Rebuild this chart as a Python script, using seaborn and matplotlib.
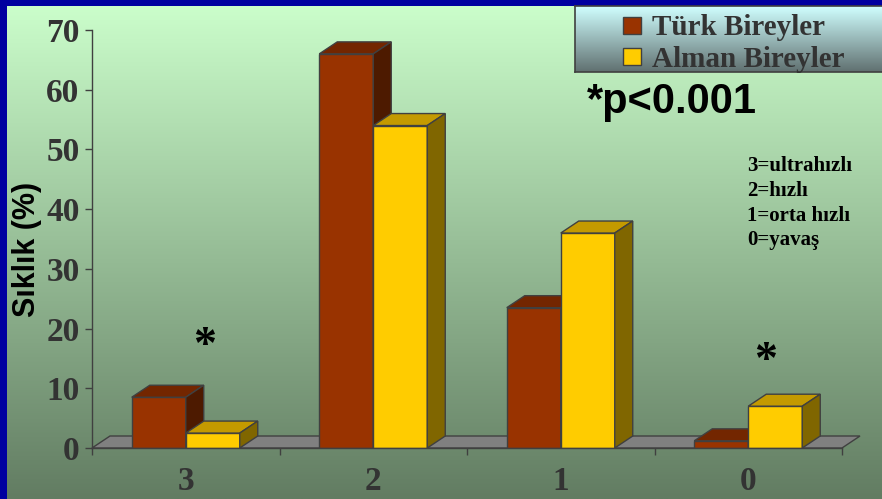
import numpy as np
import pandas as pd
import matplotlib
matplotlib.use("Agg")
import matplotlib.pyplot as plt
import seaborn as sns
from matplotlib.patches import Polygon, Rectangle, Patch
from matplotlib.colors import to_rgba

# ---- data ----
categories = ["3", "2", "1", "0"]
turk_values = [8.5, 66.0, 23.5, 1.2]
alman_values = [2.5, 54.0, 36.0, 7.0]
series_names = ["Türk Bireyler", "Alman Bireyler"]
y_ticks = [0, 10, 20, 30, 40, 50, 60, 70]
ylabel = "Sıklık (%)"
note_text = "3=ultrahızlı\n2=hızlı\n1=orta hızlı\n0=yavaş"
pvalue_text = "*p<0.001"
star_categories = ["3", "0"]

df = pd.DataFrame({
    "cat": categories * 2,
    "val": turk_values + alman_values,
    "grp": [series_names[0]] * 4 + [series_names[1]] * 4,
})

front = {series_names[0]: "#993300", series_names[1]: "#FFCC00"}
topc = {series_names[0]: "#732600", series_names[1]: "#C49A00"}
sidec = {series_names[0]: "#4D1A00", series_names[1]: "#806600"}
edge = "#404040"

W, H = 882, 499
fig = plt.figure(figsize=(W / 100, H / 100), dpi=100)

# background gradient
bg = fig.add_axes([0, 0, 1, 1], zorder=-10)
t = np.linspace(0, 1, 256)[:, None]
c_top = np.array([204, 255, 204]) / 255
c_bot = np.array([98, 124, 98]) / 255
grad = (c_top[None, None, :] * (1 - t[..., None]) + c_bot[None, None, :] * t[..., None])
bg.imshow(np.repeat(grad, 2, axis=1), aspect="auto", extent=[0, 1, 0, 1], origin="upper")
bg.set_xlim(0, 1); bg.set_ylim(0, 1); bg.axis("off")
# blue frame (top and left)
bg.add_patch(Rectangle((0, 1 - 6 / H), 1, 6 / H, color="#0000A0", lw=0))
bg.add_patch(Rectangle((0, 0), 7 / W, 1, color="#0000A0", lw=0))

# main axes
ax = fig.add_axes([92 / W, 51 / H, 750 / W, 418 / H])
ax.patch.set_alpha(0)
sns.barplot(data=df, x="cat", y="val", hue="grp", order=categories,
            hue_order=series_names, palette=[front[s] for s in series_names],
            width=0.576, saturation=1, edgecolor=edge, linewidth=1,
            legend=False, ax=ax)

ax.set_xlim(-0.5, len(categories) - 0.5)
ax.set_ylim(0, 70)
dx = 18 / 187.5
dy = 12 / (418 / 70)

# floor
x0f, x1f = ax.get_xlim()
floor = Polygon([(x0f, 0), (x1f, 0), (x1f + dx, dy), (x0f + dx, dy)],
                closed=True, facecolor="#808080", edgecolor=edge, lw=1,
                zorder=0.5, clip_on=False)
ax.add_patch(floor)

for p in list(ax.patches):
    if p is floor:
        continue
    fc = p.get_facecolor()
    name = series_names[0] if np.allclose(fc, to_rgba(front[series_names[0]]), atol=0.02) else series_names[1]
    z = 2 if name == series_names[0] else 3
    p.set_zorder(z)
    bx, bw, bh = p.get_x(), p.get_width(), p.get_height()
    top = Polygon([(bx, bh), (bx + bw, bh), (bx + bw + dx, bh + dy), (bx + dx, bh + dy)],
                  closed=True, facecolor=topc[name], edgecolor=edge, lw=1, zorder=z, clip_on=False)
    side = Polygon([(bx + bw, 0), (bx + bw + dx, dy), (bx + bw + dx, bh + dy), (bx + bw, bh)],
                   closed=True, facecolor=sidec[name], edgecolor=edge, lw=1, zorder=z, clip_on=False)
    ax.add_patch(top)
    ax.add_patch(side)

# axes styling
for s in ["top", "right"]:
    ax.spines[s].set_visible(False)
for s in ["left", "bottom"]:
    ax.spines[s].set_color(edge)
    ax.spines[s].set_linewidth(1)
ax.spines["bottom"].set_zorder(4)
ax.set_xlabel("")
ax.set_ylabel("")
ax.set_yticks(y_ticks)
ax.set_xticks(range(len(categories)))
ax.set_xticklabels(categories)
ax.set_xticks(np.arange(-0.5, len(categories)), minor=True)
ax.tick_params(axis="y", direction="out", length=5, width=1, color=edge, pad=4)
ax.tick_params(axis="x", which="major", length=0, pad=13)
ax.tick_params(axis="x", which="minor", direction="out", length=5, width=1, color=edge)
for lab in ax.get_xticklabels() + ax.get_yticklabels():
    lab.set_fontfamily("Liberation Serif")
    lab.set_fontweight("bold")
    lab.set_fontsize(24)
    lab.set_color("#333333")

# asterisks
star_y = {"3": 15.0, "0": 12.5}
star_dx = {"3": 0.103, "0": 0.09}
for c in star_categories:
    i = categories.index(c)
    ax.text(i + star_dx[c], star_y[c], "*", ha="center", va="baseline",
            fontfamily="Liberation Serif", fontweight="bold", fontsize=33, color="black")

# y label
fig.text(27 / W, 1 - 249 / H, ylabel, rotation=90, ha="center", va="center",
         fontfamily="Liberation Sans", fontweight="bold", fontsize=22, color="black")

# p value and note
fig.text(587 / W, 1 - 113 / H, pvalue_text, ha="left", va="baseline",
         fontfamily="Liberation Sans", fontweight="bold", fontsize=30, color="black")
fig.text(747 / W, 1 - 156 / H, note_text, ha="left", va="top", linespacing=1.32,
         fontfamily="Liberation Serif", fontweight="bold", fontsize=15, color="black")

# legend box with gradient
lax = fig.add_axes([575 / W, 1 - 72 / H, 310 / W, 66 / H], zorder=5)
lt = np.linspace(0, 1, 128)[:, None]
l_top = np.array([208, 255, 255]) / 255
l_bot = np.array([96, 112, 112]) / 255
lgrad = (l_top[None, None, :] * (1 - lt[..., None]) + l_bot[None, None, :] * lt[..., None])
lax.imshow(np.repeat(lgrad, 2, axis=1), aspect="auto", extent=[0, 1, 0, 1], origin="upper")
lax.set_xlim(0, 1); lax.set_ylim(0, 1)
lax.set_xticks([]); lax.set_yticks([])
for s in lax.spines.values():
    s.set_color(edge); s.set_linewidth(1.2)

handles = [Patch(facecolor=front[s], edgecolor=edge, lw=1, label=s) for s in series_names]
leg = lax.legend(handles=handles, loc="center left", bbox_to_anchor=(48 / 310, 0.43),
                 frameon=False, prop={"family": "Liberation Serif", "weight": "bold", "size": 21},
                 labelcolor="#333333", handlelength=0.6, handleheight=0.52,
                 handletextpad=0.4, labelspacing=0.15, borderpad=0, borderaxespad=0)

fig.savefig("out.png", dpi=100)
